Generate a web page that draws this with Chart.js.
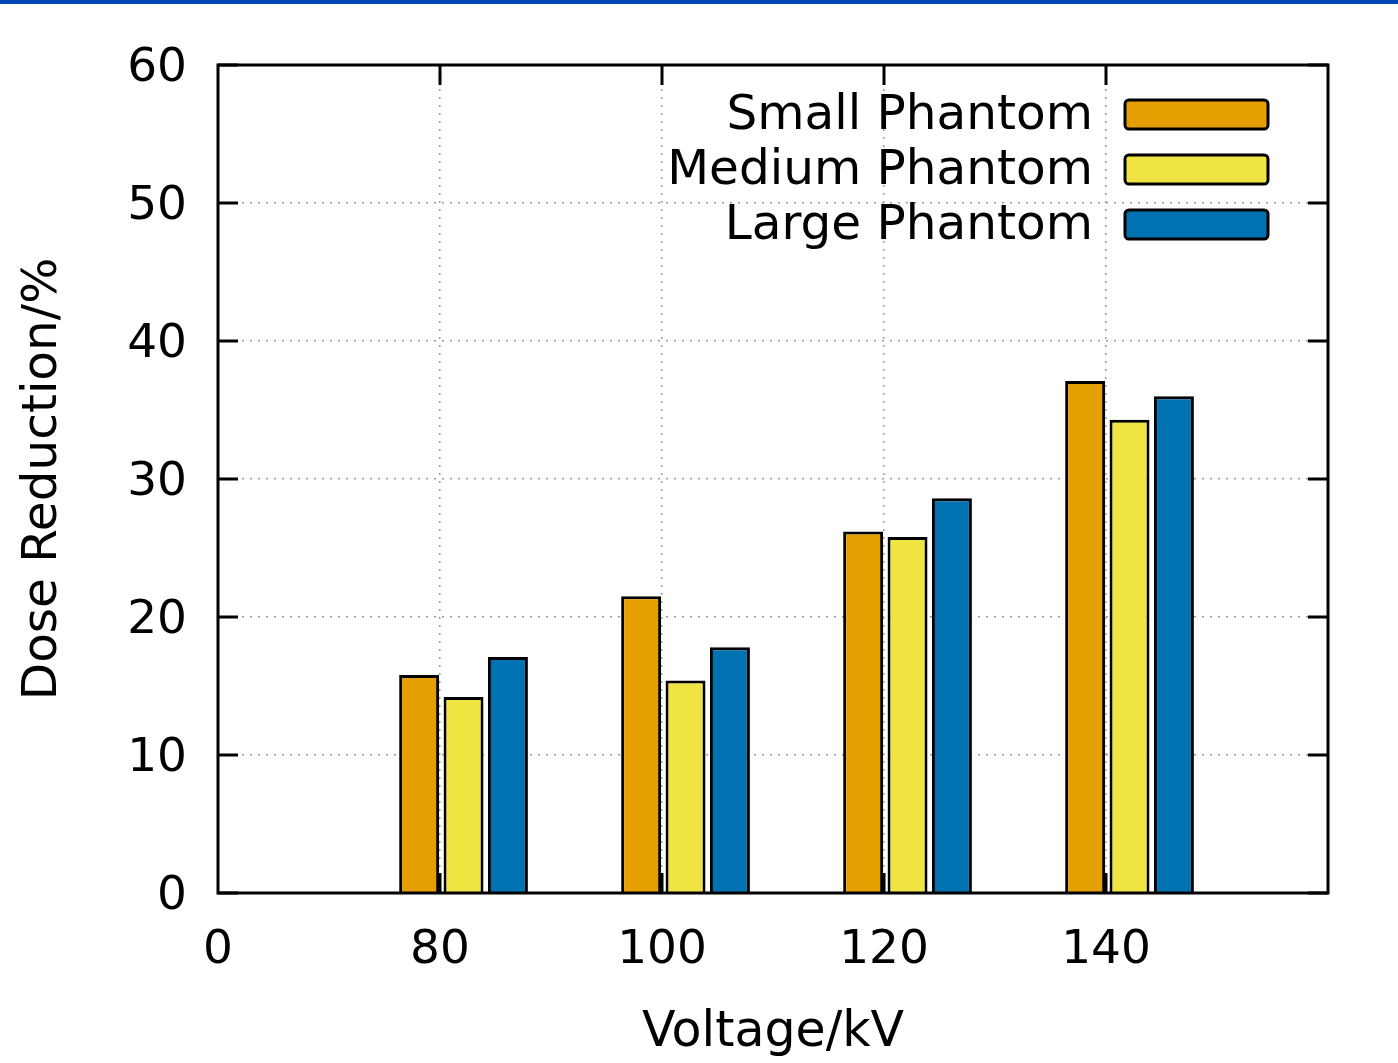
<!DOCTYPE html>
<html>
<head>
<meta charset="utf-8">
<script src="https://cdn.jsdelivr.net/npm/chart.js@4"></script>
<style>
  html, body { margin: 0; padding: 0; background: #fff; }
</style>
</head>
<body>
<canvas id="myChart" width="1398" height="1063"></canvas>
<script>
// data
const tickLabels = ['0', '80', '100', '120', '140']
const voltages = ['80', '100', '120', '140']
const smallPhantom = [15.8, 21.5, 26.2, 37.1]
const mediumPhantom = [14.2, 15.4, 25.8, 34.3]
const largePhantom = [17.1, 17.8, 28.6, 36.0]
const seriesNames = ['Small Phantom', 'Medium Phantom', 'Large Phantom']
const seriesColors = ['#E69F00', '#F0E442', '#0072B2']
const yTicks = [0, 10, 20, 30, 40, 50, 60]

// gnuplot puts each group a bit right of its tic
const barShift = 0.106
const FONT = 'DejaVu Sans'

Chart.defaults.font.family = FONT
Chart.defaults.color = '#000'

function points(values) {
  return voltages.map((v, i) => ({ x: tickLabels.indexOf(v), y: values[i] }))
}

const allSeries = [smallPhantom, mediumPhantom, largePhantom]

// white page + blue strip along the top
const background = {
  id: 'background',
  beforeDraw(chart) {
    const c = chart.ctx
    c.save()
    c.fillStyle = '#fff'
    c.fillRect(0, 0, chart.width, chart.height)
    c.fillStyle = '#0047B5'
    c.fillRect(0, 0, chart.width, 4)
    c.restore()
  }
}

// frame with inward tics on all four sides
const frame = {
  id: 'frame',
  afterDatasetsDraw(chart) {
    const c = chart.ctx
    const a = chart.chartArea
    const xs = chart.scales.xAxis
    const ys = chart.scales.y
    const len = 20
    c.save()
    c.strokeStyle = '#000'
    c.lineWidth = 3
    c.strokeRect(a.left, a.top, a.right - a.left, a.bottom - a.top)
    c.beginPath()
    for (let i = 1; i < tickLabels.length; i++) {
      const px = xs.getPixelForValue(i)
      c.moveTo(px, a.bottom); c.lineTo(px, a.bottom - len)
      c.moveTo(px, a.top); c.lineTo(px, a.top + len)
    }
    yTicks.forEach(t => {
      const py = ys.getPixelForValue(t)
      c.moveTo(a.left, py); c.lineTo(a.left + len, py)
      c.moveTo(a.right, py); c.lineTo(a.right - len, py)
    })
    c.stroke()
    c.restore()
  }
}

// key in the top right corner, text right aligned left of the swatch
const keyBox = {
  id: 'keyBox',
  afterDraw(chart) {
    const c = chart.ctx
    const textRight = 1093
    const boxLeft = 1125, boxW = 143, boxH = 29
    const firstRow = 114.5, rowGap = 55
    c.save()
    c.font = '48.5px "' + FONT + '"'
    c.textAlign = 'right'
    c.textBaseline = 'middle'
    chart.data.datasets.forEach((ds, i) => {
      const cy = firstRow + rowGap * i
      c.fillStyle = '#000'
      c.fillText(ds.label, textRight, cy + 2)
      c.beginPath()
      c.roundRect(boxLeft, cy - boxH / 2, boxW, boxH, 4)
      c.fillStyle = ds.backgroundColor
      c.fill()
      c.lineWidth = 3
      c.strokeStyle = '#000'
      c.stroke()
    })
    c.restore()
  }
}

const gridColor = (lo, hi) => ctx =>
  (ctx.tick && ctx.tick.value > lo && ctx.tick.value < hi) ? '#9a9a9a' : 'rgba(0,0,0,0)'

const ctx = document.getElementById('myChart')
new Chart(ctx, {
  type: 'bar',
  data: {
    datasets: seriesNames.map((name, i) => ({
      label: name,
      data: points(allSeries[i]),
      backgroundColor: seriesColors[i],
      borderColor: '#000',
      borderWidth: 3,
      xAxisID: 'x',
      yAxisID: 'y'
    }))
  },
  options: {
    responsive: false,
    animation: false,
    devicePixelRatio: 1,
    categoryPercentage: 0.6,
    barPercentage: 0.9,
    layout: { padding: { top: 65, right: 70, left: 0, bottom: 0 } },
    plugins: {
      legend: { display: false },
      tooltip: { enabled: false }
    },
    scales: {
      x: {
        type: 'linear',
        display: false,
        offset: false,
        min: -barShift,
        max: tickLabels.length - barShift,
        grid: { offset: false },
        ticks: { stepSize: 1, includeBounds: false }
      },
      xAxis: {
        type: 'linear',
        position: 'bottom',
        offset: false,
        min: 0,
        max: tickLabels.length,
        afterFit: s => { s.height = 170 },
        ticks: {
          stepSize: 1,
          autoSkip: false,
          maxRotation: 0,
          padding: 30,
          font: { size: 47 },
          callback: v => tickLabels[v] ?? ''
        },
        grid: { offset: false, color: gridColor(0, tickLabels.length), lineWidth: 1.5, drawTicks: false },
        border: { display: false, dash: [2, 6] },
        title: {
          display: true,
          text: 'Voltage/kV',
          font: { size: 49 },
          padding: { top: 0, bottom: 0 }
        }
      },
      y: {
        min: 0,
        max: 60,
        afterFit: s => { s.width = 218 },
        ticks: { stepSize: 10, padding: 31, labelOffset: 4, font: { size: 47 } },
        grid: { color: gridColor(0, 60), lineWidth: 1.5, drawTicks: false },
        border: { display: false, dash: [2, 6] },
        title: {
          display: true,
          text: 'Dose Reduction/%',
          font: { size: 48.5 },
          padding: { top: 14, bottom: 0 }
        }
      }
    }
  },
  plugins: [background, frame, keyBox]
})
</script>
</body>
</html>
